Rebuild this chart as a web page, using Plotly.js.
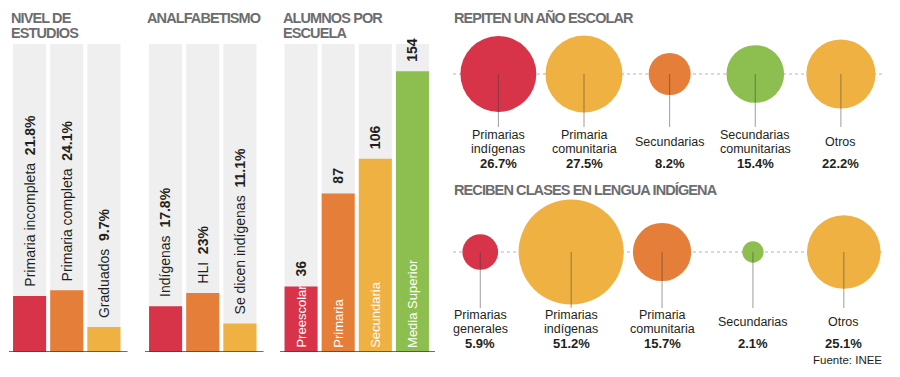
<!DOCTYPE html>
<html><head><meta charset="utf-8">
<script src="https://cdn.plot.ly/plotly-3.0.1.min.js"></script>
<style>html,body{margin:0;padding:0;background:#fff}#chart{width:900px;height:377px}</style>
</head><body><div id="chart"></div><script>
// ---------- DATA ----------
const nivelCats = ["Primaria incompleta", "Primaria completa", "Graduados"];
const nivelVals = [21.8, 24.1, 9.7];
const analfCats = ["Indígenas", "HLI", "Se dicen indígenas"];
const analfVals = [17.8, 23, 11.1];
const alumnosCats = ["Preescolar", "Primaria", "Secundaria", "Media Superior"];
const alumnosVals = [36, 87, 106, 154];
const repitenCats = ["Primarias<br>indígenas", "Primaria<br>comunitaria", "Secundarias", "Secundarias<br>comunitarias", "Otros"];
const repitenVals = [26.7, 27.5, 8.2, 15.4, 22.2];
const lenguaCats = ["Primarias<br>generales", "Primarias<br>indígenas", "Primaria<br>comunitaria", "Secundarias", "Otros"];
const lenguaVals = [5.9, 51.2, 15.7, 2.1, 25.1];
const titles = [["NIVEL DE", "ESTUDIOS"], ["ANALFABETISMO"], ["ALUMNOS POR", "ESCUELA"], ["REPITEN UN AÑO ESCOLAR"], ["RECIBEN CLASES EN LENGUA INDÍGENA"]];
const sourceText = "Fuente: INEE";

// ---------- STYLE ----------
const RED = "#d7344a", ORANGE = "#e47e39", YELLOW = "#eeb142", GREEN = "#8cbf4f";
const BG = "#efefef", TITLE = "#6c6d70", INK = "#231f20";
const barColors3 = [RED, ORANGE, YELLOW];
const barColors4 = [RED, ORANGE, YELLOW, GREEN];
const repitenColors = [RED, YELLOW, ORANGE, GREEN, YELLOW];
const lenguaColors = [RED, YELLOW, ORANGE, GREEN, YELLOW];
const FONT = "Liberation Sans, Arial, sans-serif";
const W = 900, H = 377;
const px = x => x / W, py = y => 1 - y / H;
const PCT_MAX = 120, ALU_MAX = 169;
const barYDomain = [py(352), py(44)];

const traces = [];
const annotations = [];
const shapes = [];

function barPanel(cats, vals, colors, xa, ya, max) {
  traces.push({type: "bar", x: cats, y: cats.map(() => max), xaxis: xa, yaxis: ya,
    marker: {color: BG}, width: 0.89, hoverinfo: "skip", showlegend: false});
  traces.push({type: "bar", x: cats, y: vals, xaxis: xa, yaxis: ya,
    marker: {color: colors}, width: 0.89, hoverinfo: "skip", showlegend: false});
}
barPanel(nivelCats, nivelVals, barColors3, "x", "y", PCT_MAX);
barPanel(analfCats, analfVals, barColors3, "x2", "y2", PCT_MAX);
barPanel(alumnosCats, alumnosVals, barColors4, "x3", "y3", ALU_MAX);

[[nivelCats, nivelVals, "x", "y"], [analfCats, analfVals, "x2", "y2"]].forEach(([cats, vals, xa, ya]) => {
  cats.forEach((c, i) => {
    annotations.push({xref: xa, yref: ya, x: c, y: vals[i], yanchor: "bottom", xanchor: "center",
      yshift: 7, textangle: -90, showarrow: false,
      text: c + "\u00a0\u00a0<b>" + vals[i] + "%</b>", font: {family: FONT, size: 14, color: INK}});
  });
});
alumnosCats.forEach((c, i) => {
  annotations.push({xref: "x3", yref: "y3", x: c, y: 0, yanchor: "bottom", xanchor: "center",
    yshift: 2, textangle: -90, showarrow: false, text: c,
    font: {family: FONT, size: 13, color: "#ffffff"}});
  annotations.push({xref: "x3", yref: "y3", x: c, y: alumnosVals[i], yanchor: "bottom", xanchor: "center",
    yshift: 8, textangle: -90, showarrow: false, text: "<b>" + alumnosVals[i] + "</b>",
    font: {family: FONT, size: 14, color: INK}});
});
[["x", -0.018, 1.045, "y"], ["x2", -0.018, 1.045, "y2"], ["x3", -0.017, 1.027, "y3"]].forEach(([xa, a, b, ya]) => {
  shapes.push({type: "line", xref: xa + " domain", x0: a, x1: b, yref: ya, y0: 0, y1: 0,
    line: {color: "#3c3c3c", width: 1.5}, layer: "above"});
});

// bubbles (area-proportional)
const SIZEREF = 1 / 108;
function bubbleRow(cats, vals, colors, xa, ya, dropTo, l1, l2, single, valY) {
  shapes.push({type: "line", xref: xa + " domain", x0: 0, x1: 1, yref: ya, y0: 0, y1: 0,
    line: {color: "#b5b5b5", width: 1, dash: "dot"}, layer: "below"});
  traces.push({type: "scatter", mode: "markers", x: cats, y: cats.map(() => 0), xaxis: xa, yaxis: ya,
    marker: {size: vals, sizemode: "area", sizeref: SIZEREF, color: colors, line: {width: 0}, opacity: 1},
    cliponaxis: false, hoverinfo: "skip", showlegend: false});
  cats.forEach((c, i) => {
    shapes.push({type: "line", xref: xa, yref: ya, x0: i, x1: i, y0: 0, y1: dropTo,
      line: {color: "rgba(60,60,60,0.5)", width: 1}, layer: "above"});
    const lines = c.split("<br>");
    const ys = lines.length === 2 ? [l1, l2] : [single];
    lines.forEach((t, k) => annotations.push({xref: xa, yref: ya, x: i, y: ys[k], xanchor: "center", yanchor: "middle",
      showarrow: false, borderpad: 0, text: t, font: {family: FONT, size: 12.5, color: INK}}));
    annotations.push({xref: xa, yref: ya, x: i, y: valY, xanchor: "center", yanchor: "middle",
      showarrow: false, borderpad: 0, text: "<b>" + vals[i] + "%</b>", font: {family: FONT, size: 13, color: INK}});
  });
}
bubbleRow(repitenCats, repitenVals, repitenColors, "x4", "y4", -53, -60.5, -74.5, -67.5, -89.5);
bubbleRow(lenguaCats, lenguaVals, lenguaColors, "x5", "y5", -56, -62.5, -76.5, -69.5, -91.5);

// titles
const titleStart = annotations.length;
const titlePos = [[9, 18], [145, 18], [281, 18], [452, 18], [452, 190]];
titles.forEach((lines, j) => {
  lines.forEach((t, k) => annotations.push({xref: "paper", yref: "paper", x: px(titlePos[j][0]), y: py(titlePos[j][1] + k * 15),
    xanchor: "left", yanchor: "middle", align: "left", showarrow: false, text: "<b>" + t + "</b>",
    font: {family: FONT, size: 14.5, color: TITLE}}));
});
const titleEnd = annotations.length;
annotations.push({xref: "paper", yref: "paper", x: px(884), y: py(360), xanchor: "right", yanchor: "middle",
  showarrow: false, text: sourceText, font: {family: FONT, size: 11.5, color: INK}});

const hid = {visible: false, fixedrange: true};
const layout = {
  width: W, height: H, margin: {l: 0, r: 0, t: 0, b: 0},
  paper_bgcolor: "#fff", plot_bgcolor: "rgba(0,0,0,0)",
  barmode: "overlay", showlegend: false, hovermode: false,
  xaxis: Object.assign({domain: [px(11), px(122.5)], type: "category", range: [-0.5, 2.5]}, hid),
  yaxis: Object.assign({domain: barYDomain, range: [0, PCT_MAX]}, hid),
  xaxis2: Object.assign({domain: [px(147), px(258.5)], type: "category", range: [-0.5, 2.5], anchor: "y2"}, hid),
  yaxis2: Object.assign({domain: barYDomain, range: [0, PCT_MAX], anchor: "x2"}, hid),
  xaxis3: Object.assign({domain: [px(282.5), px(431)], type: "category", range: [-0.5, 3.5], anchor: "y3"}, hid),
  yaxis3: Object.assign({domain: barYDomain, range: [0, ALU_MAX], anchor: "x3"}, hid),
  xaxis4: Object.assign({domain: [px(453), px(882)], type: "category", range: [-0.53, 4.48], anchor: "y4"}, hid),
  yaxis4: Object.assign({domain: [py(180), 1], range: [-106, 74], anchor: "x4"}, hid),
  xaxis5: Object.assign({domain: [px(453), px(882)], type: "category", range: [-0.30, 4.42], anchor: "y5"}, hid),
  yaxis5: Object.assign({domain: [0, py(180)], range: [-125, 72], anchor: "x5"}, hid),
  annotations: annotations, shapes: shapes
};
Plotly.newPlot("chart", traces, layout, {displayModeBar: false, staticPlot: true}).then(gd => {
  for (let k = titleStart; k < titleEnd; k++) {
    gd.querySelectorAll('.annotation[data-index="' + k + '"] text').forEach(t => {
      t.style.letterSpacing = "-0.9px";
    });
  }
});
</script></body></html>
